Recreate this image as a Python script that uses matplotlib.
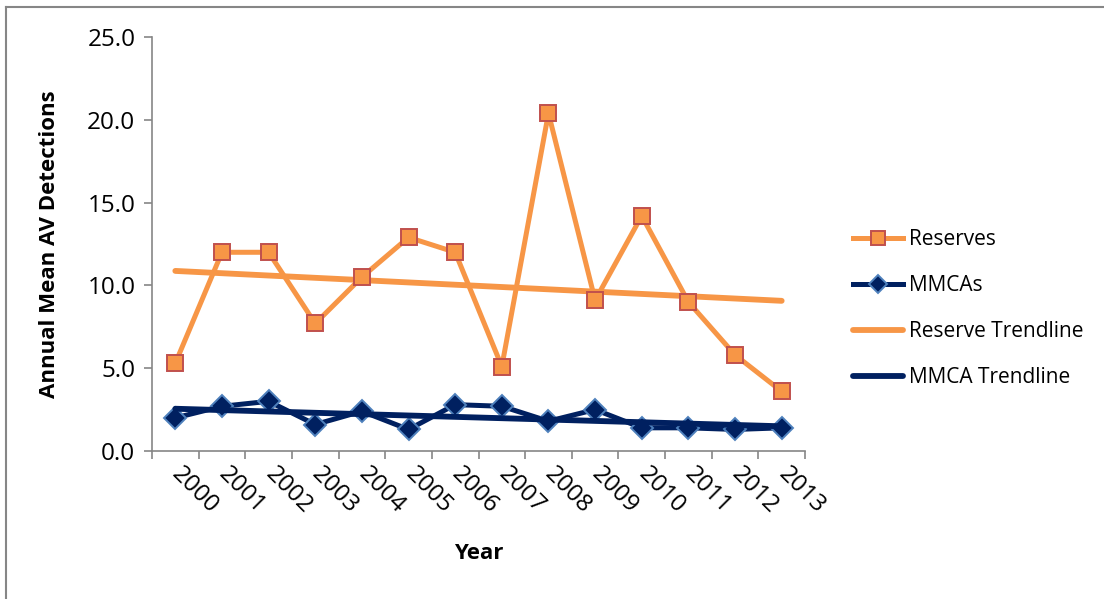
import numpy as np
import matplotlib
matplotlib.use("Agg")
import matplotlib.pyplot as plt
from matplotlib.lines import Line2D

plt.rcParams['font.family'] = ['Open Sans', 'DejaVu Sans']

# Data
years = ['2000', '2001', '2002', '2003', '2004', '2005', '2006',
         '2007', '2008', '2009', '2010', '2011', '2012', '2013']
reserves = [5.3, 12.0, 12.0, 7.7, 10.5, 12.9, 12.0, 5.1, 20.4, 9.1, 14.2, 9.0, 5.8, 3.6]
mmcas = [2.0, 2.7, 3.0, 1.6, 2.4, 1.3, 2.8, 2.7, 1.8, 2.5, 1.4, 1.4, 1.3, 1.4]

ORANGE = '#F79646'
RED_EDGE = '#C0504D'
NAVY = '#002060'
BLUE_EDGE = '#4F81BD'
GRAY = '#868686'

x = np.arange(len(years))

# linear trendlines (Excel style least squares)
res_fit = np.polyfit(x, reserves, 1)
mm_fit = np.polyfit(x, mmcas, 1)

fig = plt.figure(figsize=(11.04, 5.99), dpi=100)
ax = fig.add_axes([152 / 1104, 1 - 451 / 599, (805 - 152) / 1104, (451 - 37) / 599])

ax.plot(x, reserves, color=ORANGE, lw=3.6, marker='s', markersize=12,
        markerfacecolor=ORANGE, markeredgecolor=RED_EDGE, markeredgewidth=1.4,
        label='Reserves', zorder=3)
ax.plot(x, mmcas, color=NAVY, lw=3.6, marker='D', markersize=11,
        markerfacecolor=NAVY, markeredgecolor=BLUE_EDGE, markeredgewidth=1.4,
        label='MMCAs', zorder=4)
ax.plot(x, np.polyval(res_fit, x), color=ORANGE, lw=4.2,
        solid_capstyle='round', label='Reserve Trendline', zorder=2)
ax.plot(x, np.polyval(mm_fit, x), color=NAVY, lw=4.2,
        solid_capstyle='round', label='MMCA Trendline', zorder=5)

ax.set_xlim(-0.5, len(years) - 0.5)
ax.set_ylim(0, 25)
ax.set_yticks(np.arange(0, 25.1, 5))
ax.set_yticklabels([f'{v:.1f}' for v in np.arange(0, 25.1, 5)], fontsize=17.5)

ax.set_xticks(np.arange(-0.5, len(years), 1))
ax.set_xticklabels([])
ax.set_xticks(x, minor=True)
ax.set_xticklabels(years, minor=True, rotation=-45, ha='left', va='center',
                   rotation_mode='anchor', fontsize=17.5)
ax.tick_params(axis='x', which='minor', length=0, pad=14)
ax.tick_params(axis='both', which='major', length=6, width=1.2, color=GRAY,
               direction='out')
ax.tick_params(axis='y', pad=6)

for s in ['top', 'right']:
    ax.spines[s].set_visible(False)
for s in ['left', 'bottom']:
    ax.spines[s].set_color(GRAY)
    ax.spines[s].set_linewidth(1.2)

ax.set_ylabel('Annual Mean AV Detections', fontsize=16, fontweight='bold')
ax.yaxis.set_label_coords(-0.141, 0.5)
ax.set_xlabel('Year', fontsize=16, fontweight='bold')
ax.xaxis.set_label_coords(0.5, -0.222)

leg = ax.legend(loc='center left', bbox_to_anchor=(1.06, 0.344), frameon=False,
                fontsize=15, handlelength=2.4, labelspacing=1.2, handletextpad=0.3,
                borderaxespad=0, markerscale=0.8)

# outer chart border (top and left only visible)
fig.add_artist(Line2D([6 / 1104, 1], [1 - 7 / 599, 1 - 7 / 599],
                      transform=fig.transFigure, color=GRAY, lw=1.5))
fig.add_artist(Line2D([6 / 1104, 6 / 1104], [0, 1 - 7 / 599],
                      transform=fig.transFigure, color=GRAY, lw=1.5))

fig.savefig('out.png', dpi=100)
